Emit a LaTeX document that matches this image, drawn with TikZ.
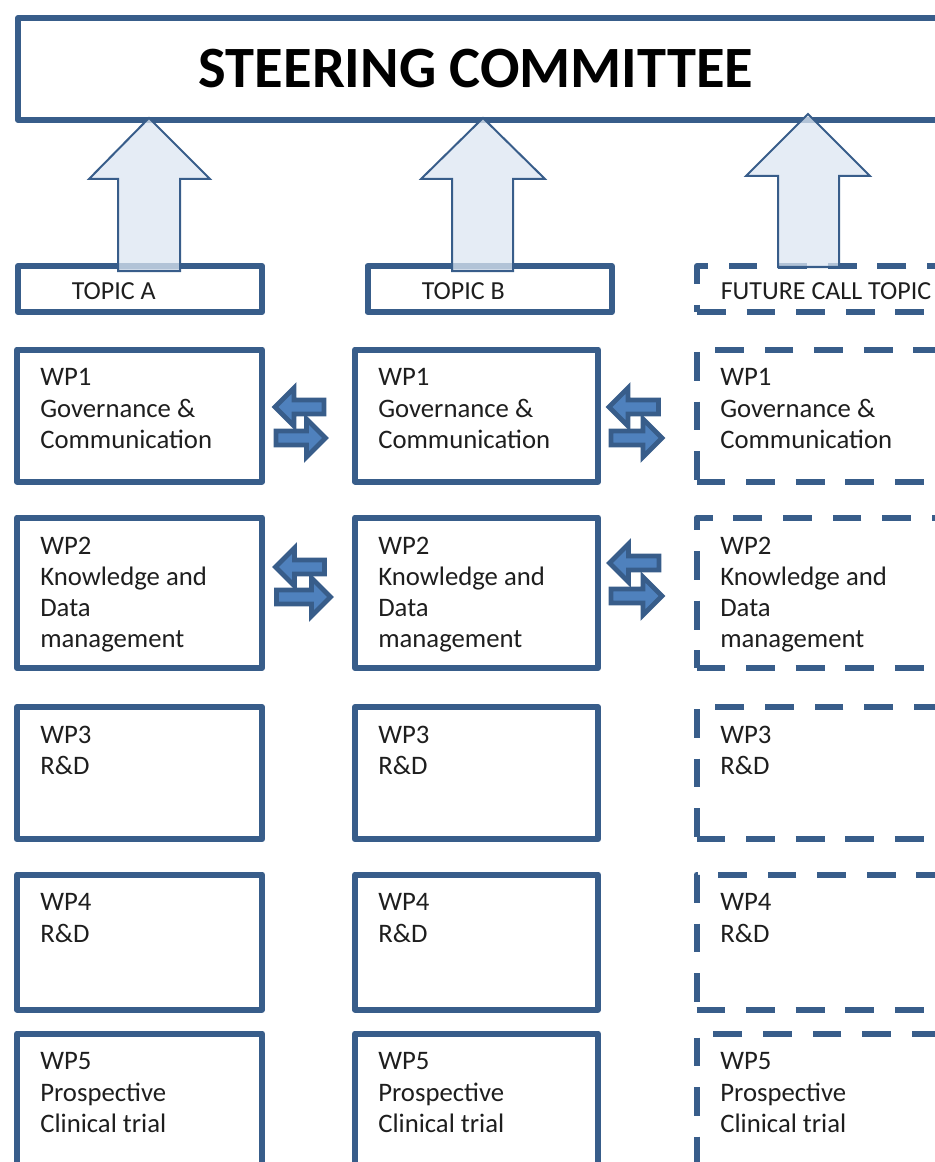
\documentclass[tikz,border=0pt]{standalone}
\usepackage{fontspec}
\setmainfont{Carlito}
\usepackage{xcolor}
\usepackage{tikz}

\definecolor{bordeAzul}{RGB}{56,93,138}
\definecolor{rellenoClaro}{RGB}{220,230,242}
\definecolor{rellenoMedio}{RGB}{79,129,189}
\definecolor{textoGris}{RGB}{30,30,30}

\begin{document}
\begin{tikzpicture}[x=0.025cm, y=-0.025cm]
      % Definición de estilos
      \tikzstyle{caja}=[draw=bordeAzul, line width=0.15cm, anchor=north west, inner sep=0pt, line join=round]
      \tikzstyle{cajafutura}=[caja, dash pattern=on 0.72cm off 0.52cm]
      \tikzstyle{texto}=[anchor=north west, inner sep=0pt, align=left, text=textoGris, font=\fontsize{19}{22.2}\selectfont]
      \tikzstyle{tema}=[anchor=west, inner sep=0pt, text=textoGris, font=\fontsize{18.5}{22}\selectfont]
      \tikzstyle{flechagrande}=[draw=bordeAzul, line width=0.05cm, fill=rellenoClaro, fill opacity=0.75]
      \tikzstyle{flechachica}=[draw=bordeAzul, line width=0.12cm, fill=rellenoMedio]

      \useasboundingbox (0,0) rectangle (934,1162);

      % Comité
      \node[caja, minimum width=24cm, minimum height=2.55cm] (comite) at (15,15) {};
      \node[font=\bfseries\fontsize{41.6}{49}\selectfont] (titulo) at (476,69) {STEERING COMMITTEE};

      % Temas
      \node[caja, minimum width=6.1cm, minimum height=1.15cm] (temaA) at (15,263) {};
      \node[caja, minimum width=6.1cm, minimum height=1.15cm] (temaB) at (364.5,263) {};
      \node[cajafutura, minimum width=7cm, minimum height=1.15cm] (temaC) at (694,263) {};
      \node[tema] (txtA) at (71.5,291.5) {TOPIC A};
      \node[tema] (txtB) at (421.5,291.5) {TOPIC B};
      \node[tema] (txtC) at (720.5,291.5) {FUTURE CALL TOPIC};

      % Flechas hacia el comité
      \draw[flechagrande] (118,271) -- (118,179) -- (89,179) -- (149,118) -- (210,179) -- (180,179) -- (180,271) -- cycle;
      \draw[flechagrande] (452,271) -- (452,179) -- (421,179) -- (483,118) -- (545,179) -- (513,179) -- (513,271) -- cycle;
      \draw[flechagrande] (778,267) -- (778,176) -- (746,176) -- (808,114) -- (870,176) -- (839,176) -- (839,267) -- cycle;

      % Paquetes de trabajo, tema A
      \node[caja, minimum width=6.125cm, minimum height=3.3cm] (wpA1) at (14,346.5) {};
      \node[caja, minimum width=6.125cm, minimum height=3.76cm] (wpA2) at (14,514.5) {};
      \node[caja, minimum width=6.125cm, minimum height=3.31cm] (wpA3) at (14,704) {};
      \node[caja, minimum width=6.125cm, minimum height=3.375cm] (wpA4) at (14,871.5) {};
      \node[caja, minimum width=6.125cm, minimum height=4.5cm] (wpA5) at (14,1030.5) {};

      % Paquetes de trabajo, tema B
      \node[caja, minimum width=6.075cm, minimum height=3.3cm] (wpB1) at (352,346.5) {};
      \node[caja, minimum width=6.075cm, minimum height=3.76cm] (wpB2) at (352,514.5) {};
      \node[caja, minimum width=6.075cm, minimum height=3.31cm] (wpB3) at (352,704) {};
      \node[caja, minimum width=6.075cm, minimum height=3.375cm] (wpB4) at (352,871.5) {};
      \node[caja, minimum width=6.075cm, minimum height=4.5cm] (wpB5) at (352,1030.5) {};

      % Paquetes de trabajo, tema futuro
      \node[cajafutura, minimum width=7cm, minimum height=3.3cm] (wpC1) at (693.5,346.5) {};
      \node[cajafutura, minimum width=7cm, minimum height=3.76cm] (wpC2) at (693.5,514.5) {};
      \node[cajafutura, minimum width=7cm, minimum height=3.31cm] (wpC3) at (693.5,704) {};
      \node[cajafutura, minimum width=7cm, minimum height=3.375cm] (wpC4) at (693.5,871.5) {};
      \node[cajafutura, minimum width=7cm, minimum height=4.5cm] (wpC5) at (693.5,1030.5) {};

      % Textos
      \node[texto] (txtA1) at (40,368.5) {WP1\\Governance \&\\Communication};
      \node[texto] (txtA2) at (40,536.5) {WP2\\Knowledge and\\Data\\management};
      \node[texto] (txtA3) at (40,726) {WP3\\R\&D};
      \node[texto] (txtA4) at (40,893.5) {WP4\\R\&D};
      \node[texto] (txtA5) at (40,1052.5) {WP5\\Prospective\\Clinical trial};
      \node[texto] (txtB1) at (378,368.5) {WP1\\Governance \&\\Communication};
      \node[texto] (txtB2) at (378,536.5) {WP2\\Knowledge and\\Data\\management};
      \node[texto] (txtB3) at (378,726) {WP3\\R\&D};
      \node[texto] (txtB4) at (378,893.5) {WP4\\R\&D};
      \node[texto] (txtB5) at (378,1052.5) {WP5\\Prospective\\Clinical trial};
      \node[texto] (txtC1) at (720,368.5) {WP1\\Governance \&\\Communication};
      \node[texto] (txtC2) at (720,536.5) {WP2\\Knowledge and\\Data\\management};
      \node[texto] (txtC3) at (720,726) {WP3\\R\&D};
      \node[texto] (txtC4) at (720,893.5) {WP4\\R\&D};
      \node[texto] (txtC5) at (720,1052.5) {WP5\\Prospective\\Clinical trial};

      % Flechas de intercambio
      \draw[flechachica] (275,407) -- ++(19,-19) -- ++(0,12) -- ++(30,0) -- ++(0,14) -- ++(-30,0) -- ++(0,12) -- cycle;
      \draw[flechachica] (325.5,438) -- ++(-19,-19) -- ++(0,12) -- ++(-30.5,0) -- ++(0,14) -- ++(30.5,0) -- ++(0,12) -- cycle;
      \draw[flechachica] (609,407) -- ++(19,-19) -- ++(0,12) -- ++(30.5,0) -- ++(0,14) -- ++(-30.5,0) -- ++(0,12) -- cycle;
      \draw[flechachica] (662,438) -- ++(-19,-19) -- ++(0,12) -- ++(-32,0) -- ++(0,14) -- ++(32,0) -- ++(0,12) -- cycle;
      \draw[flechachica] (275.5,567) -- ++(19,-19) -- ++(0,12) -- ++(30,0) -- ++(0,14) -- ++(-30,0) -- ++(0,12) -- cycle;
      \draw[flechachica] (330.5,597) -- ++(-19,-19) -- ++(0,12) -- ++(-35,0) -- ++(0,14) -- ++(35,0) -- ++(0,12) -- cycle;
      \draw[flechachica] (609.5,563) -- ++(19,-19) -- ++(0,12) -- ++(30.5,0) -- ++(0,14) -- ++(-30.5,0) -- ++(0,12) -- cycle;
      \draw[flechachica] (662,596) -- ++(-19,-19) -- ++(0,12) -- ++(-32,0) -- ++(0,14) -- ++(32,0) -- ++(0,12) -- cycle;
    \end{tikzpicture}
\end{document}
